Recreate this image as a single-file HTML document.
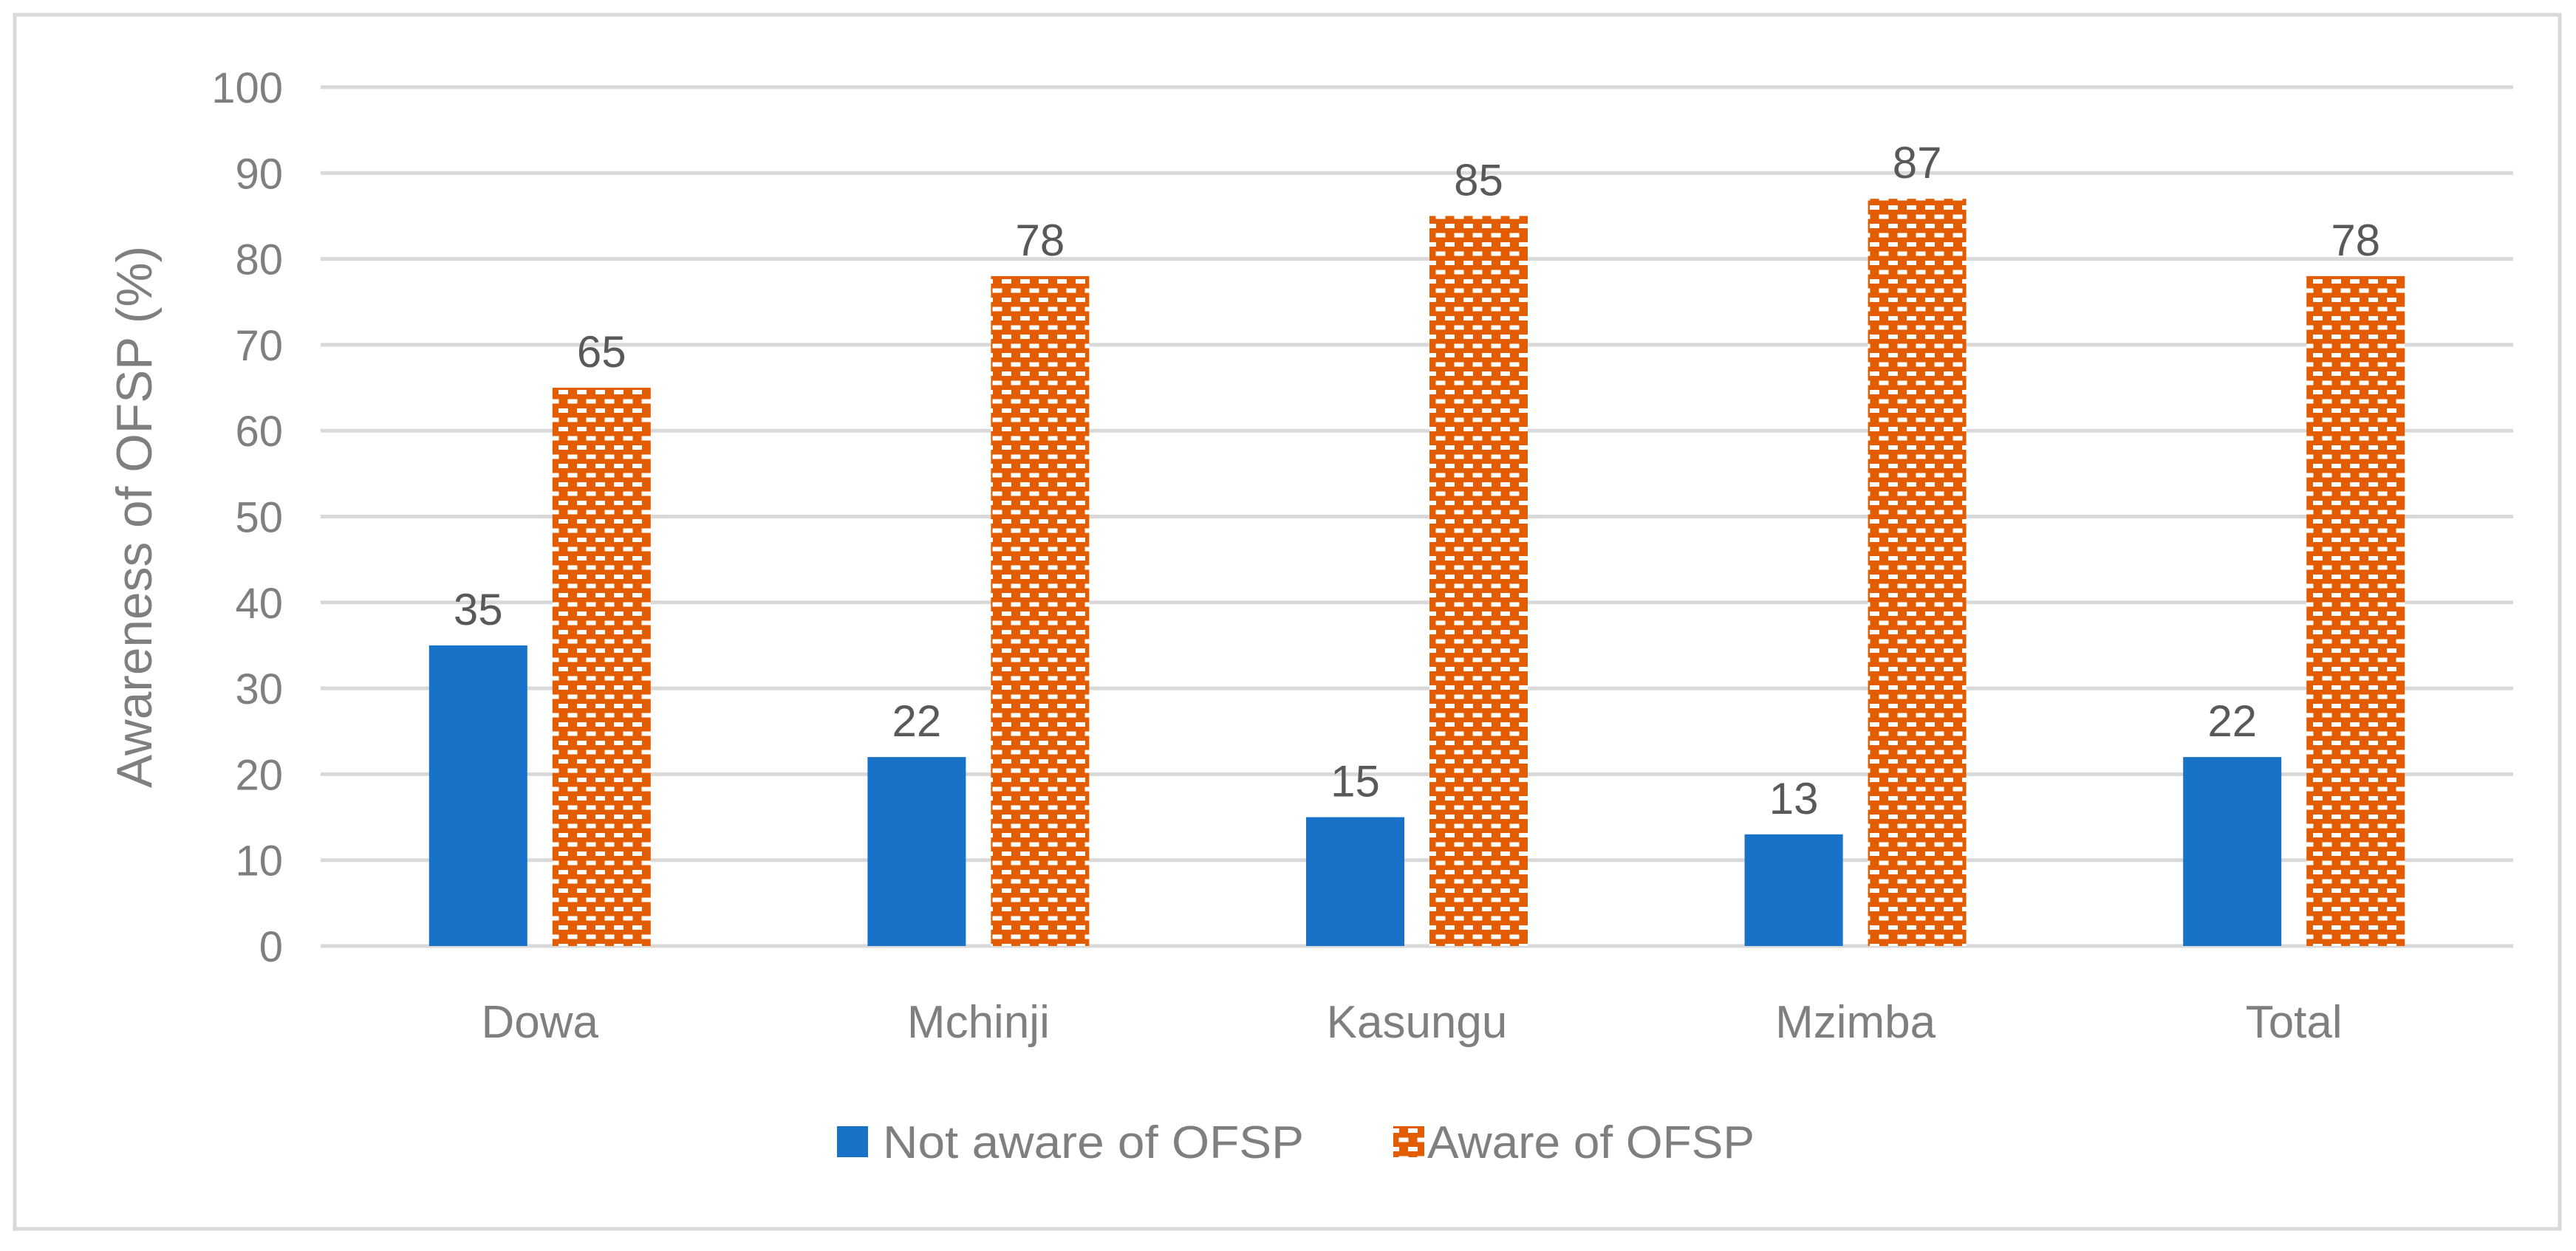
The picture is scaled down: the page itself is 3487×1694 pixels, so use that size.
<!DOCTYPE html>
<html><head><meta charset="utf-8"><style>
html,body{margin:0;padding:0;background:#fff;}
svg{display:block;font-family:"Liberation Sans",Arial,sans-serif;}
</style></head><body>
<svg id="chart" width="3487" height="1694" viewBox="0 0 3487 1694">
<defs>
<pattern id="brick" patternUnits="userSpaceOnUse" width="25" height="25">
<rect width="25" height="25" fill="#e35c00"/>
<rect x="6" y="3" width="13" height="6" fill="#fff"/>
<rect x="-6.5" y="15.5" width="13" height="6" fill="#fff"/>
<rect x="18.5" y="15.5" width="13" height="6" fill="#fff"/>
</pattern>
</defs>
<rect x="20" y="20" width="3445" height="1644" fill="#fff" stroke="#d9d9d9" stroke-width="5"/>
<g id="grid"></g>
<g id="bars"></g>
<g id="labels"></g>
<text transform="translate(205,700) rotate(-90)" text-anchor="middle" font-size="68" fill="#7f7f7f" textLength="734" lengthAdjust="spacingAndGlyphs">Awareness of OFSP (%)</text>
<g>
<rect x="1133" y="1525" width="42" height="42" fill="#1873c8"/>
<text x="1195" y="1568" font-size="62" fill="#7f7f7f" textLength="570" lengthAdjust="spacingAndGlyphs">Not aware of OFSP</text>
<rect x="1886" y="1525" width="42" height="42" fill="url(#brick)"/>
<text x="1932" y="1568" font-size="62" fill="#7f7f7f" textLength="443" lengthAdjust="spacingAndGlyphs">Aware of OFSP</text>
</g>
</svg>
<script>
const categories = ["Dowa","Mchinji","Kasungu","Mzimba","Total"];
const notAware = [35,22,15,13,22];
const aware = [65,78,85,87,78];
const yTicks = [0,10,20,30,40,50,60,70,80,90,100];

const NS="http://www.w3.org/2000/svg";
const L=434,R=3402,T=118,B=1281;
const y=v=>B-(v/100)*(B-T);
const band=(R-L)/categories.length;
const xc=i=>L+band*(i+0.5);
function mk(tag,attrs,parent,txt){const e=document.createElementNS(NS,tag);for(const k in attrs)e.setAttribute(k,attrs[k]);if(txt!==undefined)e.textContent=txt;parent.appendChild(e);return e;}
const grid=document.getElementById('grid'),bars=document.getElementById('bars'),labels=document.getElementById('labels');
yTicks.forEach(t=>{
  const g=mk('line',{x1:L,x2:R,y1:y(t),y2:y(t),stroke:'#d9d9d9','stroke-width':5},grid);
  
  
  const tl=mk('text',{x:383,y:y(t)+21,'text-anchor':'end','font-size':58,fill:'#7f7f7f'},labels,String(t));
  
  
});
const bw=133,gap=34;
categories.forEach((c,i)=>{
  const cx=xc(i);
  const x1=cx-gap/2-bw,x2=cx+gap/2;
  const b1=mk('rect',{x:x1,y:y(notAware[i]),width:bw,height:B-y(notAware[i]),fill:'#1873c8'},bars);
  
  
  const b2=mk('rect',{x:x2,y:y(aware[i]),width:bw,height:B-y(aware[i]),fill:'url(#brick)'},bars);
  
  
  const v1=mk('text',{x:x1+bw/2,y:y(notAware[i])-28,'text-anchor':'middle','font-size':60,fill:'#595959'},labels,String(notAware[i]));
  
  
  const v2=mk('text',{x:x2+bw/2,y:y(aware[i])-28,'text-anchor':'middle','font-size':60,fill:'#595959'},labels,String(aware[i]));
  
  
  const cl=mk('text',{x:cx,y:1405,'text-anchor':'middle','font-size':62,fill:'#7f7f7f'},labels,c);
  
  
});
</script>
</body></html>
